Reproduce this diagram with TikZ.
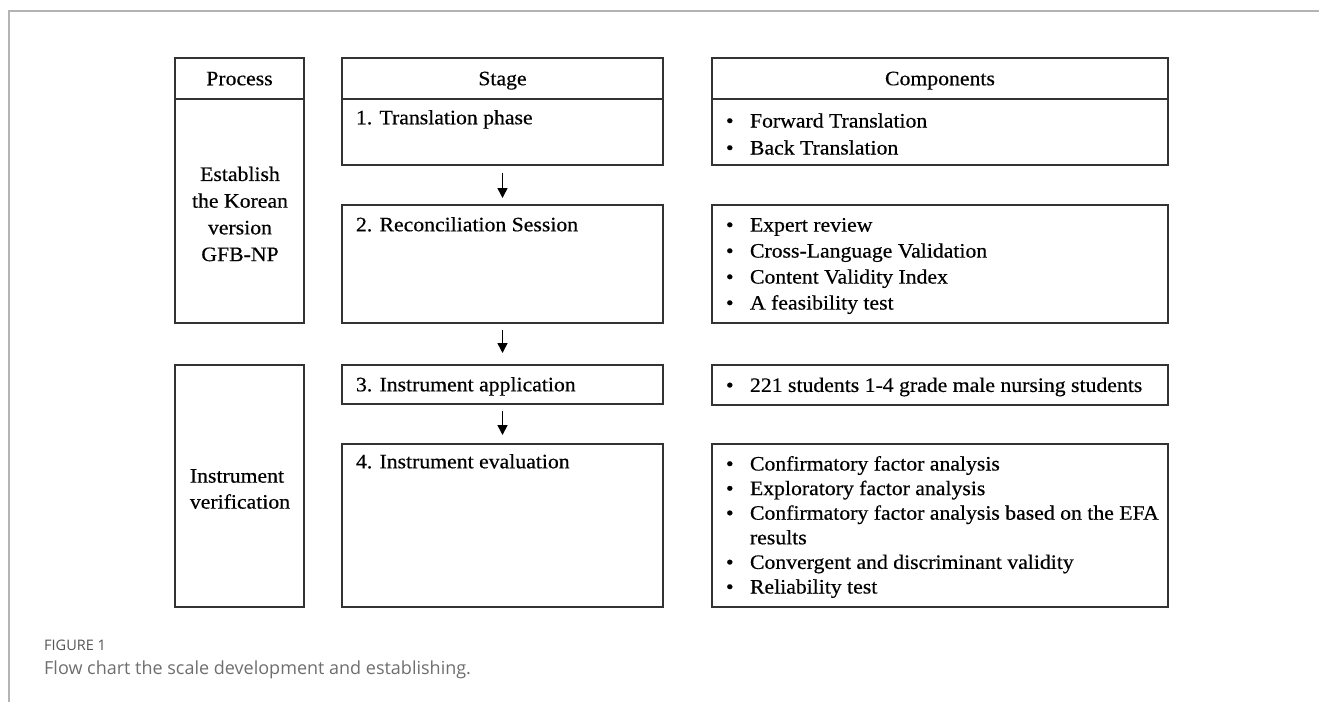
\documentclass[tikz,border=0pt]{standalone}
\usepackage{fontspec}
\setmainfont{Liberation Serif}[FakeStretch=1.06,FakeBold=0.5]
\setsansfont{Open Sans}
\usetikzlibrary{arrows.meta}
\definecolor{boxline}{HTML}{333333}
\definecolor{frameline}{HTML}{B4B4B4}
\definecolor{capgray}{HTML}{555555}
\definecolor{captext}{HTML}{6E6E6E}
\begin{document}
\begin{tikzpicture}[x=1pt,y=-1pt,
  box/.style={draw=boxline, line width=1.6pt, rectangle, inner sep=0pt, outer sep=0pt,
    anchor=north west, font=\fontsize{20.5}{26.5}\selectfont},
  hdr/.style={box, minimum height=41pt, text height=13.5pt, text depth=0pt},
  label/.style={inner sep=0pt, outer sep=0pt, anchor=mid west, font=\fontsize{20.5}{26}\selectfont},
  complist/.style={inner sep=0pt, outer sep=0pt, anchor=west, align=left, font=\fontsize{20.5}{26}\selectfont},
  arr/.style={draw=black, line width=1.6pt, -{Triangle[length=10pt,width=10pt]}},
  frame/.style={draw=frameline, line width=1.6pt}
]
\useasboundingbox (0,0) rectangle (1319,702);
\draw[frame] (1319,11) -- (9,11) -- (9,702);

% Process column
\node[hdr, minimum width=129pt] (phdr) at (175,58) {Process};
\node[box, minimum width=129pt, minimum height=224pt] (pA) at (175,99) {};
\node[inner sep=0pt, align=center, font=\fontsize{20.5}{26.7}\selectfont] (pAt) at (240,214)
  {Establish\\the Korean\\version\\GFB-NP};
\node[box, minimum width=129pt, minimum height=242pt] (pB) at (175,365) {};
\node[inner sep=0pt, align=left, font=\fontsize{20.5}{26}\selectfont] (pBt) at (240,489)
  {Instrument\\verification};

% Stage column
\node[hdr, minimum width=321pt] (shdr) at (342,58) {Stage};
\node[box, minimum width=321pt, minimum height=66pt] (s1) at (342,99) {};
\node[box, minimum width=321pt, minimum height=118pt] (s2) at (342,205) {};
\node[box, minimum width=321pt, minimum height=39pt] (s3) at (342,365) {};
\node[box, minimum width=321pt, minimum height=163pt] (s4) at (342,444) {};
\node[label] (s1t) at (356,122) {1. Translation phase};
\node[label] (s2t) at (356,229) {2. Reconciliation Session};
\node[label] (s3t) at (356,389) {3. Instrument application};
\node[label] (s4t) at (356,466) {4. Instrument evaluation};

\draw[arr, shorten <=8pt, shorten >=7pt] (s1.south) -- (s2.north);
\draw[arr, shorten <=7pt, shorten >=12pt] (s2.south) -- (s3.north);
\draw[arr, shorten <=7pt, shorten >=9pt] (s3.south) -- (s4.north);

% Components column
\node[hdr, minimum width=456pt] (chdr) at (712,58) {Components};
\node[box, minimum width=456pt, minimum height=66pt] (c1) at (712,99) {};
\node[box, minimum width=456pt, minimum height=118pt] (c2) at (712,205) {};
\node[box, minimum width=456pt, minimum height=40pt] (c3) at (712,365) {};
\node[box, minimum width=456pt, minimum height=163pt] (c4) at (712,444) {};
\node[complist, font=\fontsize{20.5}{27}\selectfont] (c1t) at (726,134)
  {\makebox[24pt][l]{•}Forward Translation\\
   \makebox[24pt][l]{•}Back Translation};
\node[complist] (c2t) at (726,266)
  {\makebox[24pt][l]{•}Expert review\\
   \makebox[24pt][l]{•}Cross-Language Validation\\
   \makebox[24pt][l]{•}Content Validity Index\\
   \makebox[24pt][l]{•}A feasibility test};
\node[complist] (c3t) at (726,387)
  {\makebox[24pt][l]{•}221 students 1-4 grade male nursing students};
\node[complist, font=\fontsize{20.5}{24.6}\selectfont] (c4t) at (726,527)
  {\makebox[24pt][l]{•}Confirmatory factor analysis\\
   \makebox[24pt][l]{•}Exploratory factor analysis\\
   \makebox[24pt][l]{•}Confirmatory factor analysis based on the EFA\\
   \hspace*{24pt}results\\
   \makebox[24pt][l]{•}Convergent and discriminant validity\\
   \makebox[24pt][l]{•}Reliability test};

% Caption
\node[inner sep=0pt, anchor=mid west, font=\sffamily\fontsize{14.5}{17}\selectfont, text=capgray] (figlab) at (44,648) {FIGURE 1};
\node[inner sep=0pt, anchor=mid west, font=\sffamily\fontsize{18}{21}\selectfont, text=captext] (figcap) at (44,672) {Flow chart the scale development and establishing.};
\end{tikzpicture}
\end{document}
